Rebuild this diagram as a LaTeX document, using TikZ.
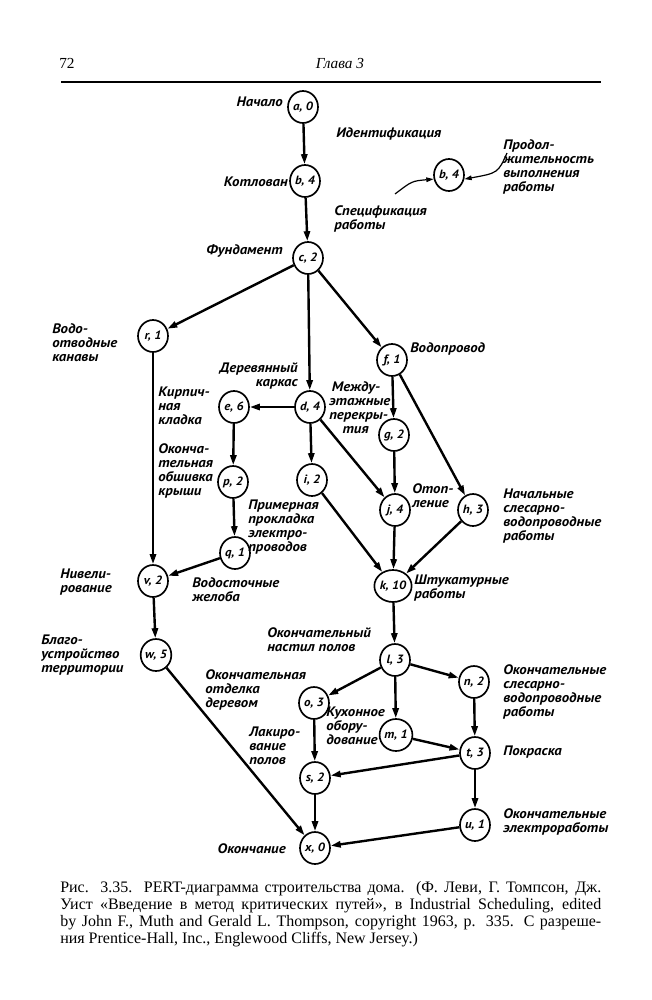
\documentclass[tikz,border=0pt]{standalone}
\usepackage{fontspec}
\setmainfont{Liberation Serif}
\newfontfamily\lblfont[FakeStretch=1.08]{PT Sans}
\usetikzlibrary{shapes.geometric,arrows.meta}
\begin{document}
\begin{tikzpicture}[x=0.75pt,y=-0.75pt,
  ev/.style={ellipse,draw,line width=1.25pt,minimum width=22.5pt,minimum height=24pt,inner sep=0pt,
    font=\lblfont\bfseries\itshape\fontsize{9}{9}\selectfont},
  act/.style={line width=1.8pt,-{Triangle[length=7.5pt,width=4.6pt]}},
  thinact/.style={line width=0.9pt,-{Triangle[length=5.5pt,width=3.4pt]}},
  lbl/.style={font=\lblfont\bfseries\itshape\fontsize{10.3}{10.5}\selectfont,inner sep=0pt,align=left},
  lblr/.style={font=\lblfont\bfseries\itshape\fontsize{10.3}{10.5}\selectfont,inner sep=0pt,align=right},
]
\useasboundingbox (0,0) rectangle (652,1000);
\fill[white] (0,0) rectangle (652,1000);

% header
\node[anchor=west,inner sep=0pt,font=\fontsize{11.5}{12}\selectfont] (pg) at (59,63) {72};
\node[inner sep=0pt,font=\itshape\fontsize{11.5}{12}\selectfont] (hd) at (340,63) {Глава 3};
\coordinate (rl) at (61,82);
\coordinate (rr) at (601,82);
\draw[line width=0.9pt] (rl) -- (rr);

% events
\node[ev] (a) at (303,107) {a, 0};
\node[ev] (b) at (305,181) {b, 4};
\node[ev] (lb) at (449,175) {b, 4};
\node[ev] (c) at (308,258) {c, 2};
\node[ev] (r) at (153,336) {r, 1};
\node[ev] (f) at (392,360) {f, 1};
\node[ev] (d) at (310,407) {d, 4};
\node[ev] (e) at (234,407) {e, 6};
\node[ev] (g) at (394,435) {g, 2};
\node[ev] (i) at (312,480) {i, 2};
\node[ev] (p) at (233,482) {p, 2};
\node[ev] (j) at (395,510) {j, 4};
\node[ev] (h) at (473,510) {h, 3};
\node[ev] (q) at (235,553) {q, 1};
\node[ev] (v) at (153,581) {v, 2};
\node[ev] (k) at (393,586) {k, 10};
\node[ev] (w) at (156,655) {w, 5};
\node[ev] (l) at (395,660) {l, 3};
\node[ev] (n) at (474,682) {n, 2};
\node[ev] (o) at (314,703) {o, 3};
\node[ev] (m) at (396,735) {m, 1};
\node[ev] (t) at (475,753) {t, 3};
\node[ev] (s) at (315,778) {s, 2};
\node[ev] (u) at (475,825) {u, 1};
\node[ev] (x) at (315,848) {x, 0};

% activities
\draw[act] (a) -- (b);
\draw[act] (b) -- (c);
\draw[act] (c) -- (r);
\draw[act] (c) -- (d);
\draw[act] (c) -- (f);
\draw[act] (r) -- (v);
\draw[act] (f) -- (g);
\draw[act] (f) -- (h);
\draw[act] (d) -- (e);
\draw[act] (d) -- (i);
\draw[act] (d) -- (j);
\draw[act] (e) -- (p);
\draw[act] (p) -- (q);
\draw[act] (q) -- (v);
\draw[act] (g) -- (j);
\draw[act] (i) -- (k);
\draw[act] (j) -- (k);
\draw[act] (h) -- (k);
\draw[act] (v) -- (w);
\draw[act] (k) -- (l);
\draw[act] (w) -- (x);
\draw[act] (l) -- (o);
\draw[act] (l) -- (m);
\draw[act] (l) -- (n);
\draw[act] (o) -- (s);
\draw[act] (n) -- (t);
\draw[act] (m) -- (t);
\draw[act] (t) -- (s);
\draw[act] (s) -- (x);
\draw[act] (t) -- (u);
\draw[act] (u) -- (x);

% legend arrows
\coordinate (sp) at (395,194);
\coordinate (pr) at (507,153);
\draw[thinact] (sp) .. controls (412,181) .. (lb.195);
\draw[thinact] (pr) .. controls (498,173) .. (lb.-15);

% labels
\node[lbl,anchor=east] (t1) at (283,102) {Начало};
\node[lbl,anchor=west] (t2) at (336,134) {Идентификация};
\node[lbl,anchor=east] (t3) at (288,182) {Котлован};
\node[lbl,anchor=west] (t4) at (503,167) {Продол-\\жительность\\выполнения\\работы};
\node[lbl,anchor=west] (t5) at (334,219) {Спецификация\\работы};
\node[lbl,anchor=east] (t6) at (283,251) {Фундамент};
\node[lbl,anchor=west] (t7) at (52,343) {Водо-\\отводные\\канавы};
\node[lbl,anchor=west] (t8) at (410,349) {Водопровод};
\node[lblr,anchor=east] (t9) at (298,376) {Деревянный\\каркас};
\node[lbl,anchor=west] (t10) at (158,406) {Кирпич-\\ная\\кладка};
\node[lbl,anchor=west] (t11) at (329,408) {\hspace{2pt}Между-\\этажные\\перекры-\\\hspace{10pt}тия};
\node[lbl,anchor=west] (t12) at (158,471) {Оконча-\\тельная\\обшивка\\крыши};
\node[lbl,anchor=west] (t13) at (248,527) {Примерная\\прокладка\\электро-\\проводов};
\node[lbl,anchor=west] (t14) at (412,496) {Отоп-\\ление};
\node[lbl,anchor=west] (t15) at (503,516) {Начальные\\слесарно-\\водопроводные\\работы};
\node[lbl,anchor=west] (t16) at (60,582) {Нивели-\\рование};
\node[lbl,anchor=west] (t17) at (192,590) {Водосточные\\желоба};
\node[lbl,anchor=west] (t18) at (414,588) {Штукатурные\\работы};
\node[lbl,anchor=west] (t19) at (267,640) {Окончательный\\настил полов};
\node[lbl,anchor=west] (t20) at (41,655) {Благо-\\устройство\\территории};
\node[lbl,anchor=west] (t21) at (205,690) {Окончательная\\отделка\\деревом};
\node[lbl,anchor=west] (t22) at (503,692) {Окончательные\\слесарно-\\водопроводные\\работы};
\node[lbl,anchor=west] (t23) at (326,726) {Кухонное\\обору-\\дование};
\node[lbl,anchor=west] (t24) at (249,746) {Лакиро-\\вание\\полов};
\node[lbl,anchor=west] (t25) at (503,752) {Покраска};
\node[lbl,anchor=west] (t26) at (503,822) {Окончательные\\электроработы};
\node[lbl,anchor=east] (t27) at (286,849) {Окончание};

% caption
\node[anchor=north west,inner sep=0pt,text width=405.75pt,align=justify,
  font=\fontsize{12}{12.75}\selectfont] (cap) at (60,881)
{Рис. 3.35. PERT-диаграмма строительства дома. (Ф. Леви, Г. Томпсон, Дж.\linebreak
Уист «Введение в метод критических путей», в Industrial Scheduling, edited\linebreak
by John F., Muth and Gerald L. Thompson, copyright 1963, p. 335. С разреше-\linebreak
ния Prentice-Hall, Inc., Englewood Cliffs, New Jersey.)};
\end{tikzpicture}
\end{document}
